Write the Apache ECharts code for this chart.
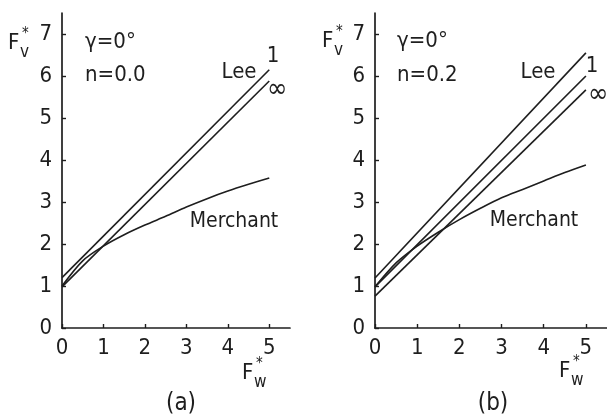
<!DOCTYPE html>
<html>
<head>
<meta charset="utf-8">
<script src="https://cdn.jsdelivr.net/npm/echarts@6/dist/echarts.min.js"></script>
<style>
  html, body { margin: 0; padding: 0; background: #fff; }
  #chart { width: 607px; height: 420px; }
</style>
</head>
<body>
<div id="chart"></div>
<script>
// Tick values shared by both panels
const fvTicks = [0, 1, 2, 3, 4, 5, 6, 7];
const fwTicks = [0, 1, 2, 3, 4, 5];

// Straight lines are defined by their end points
const lineFw = [0, 5];

// Panel (a): γ = 0°, n = 0.0
const aLee = [1.2, 6.15];
const aInf = [0.98, 5.88];
const merchFw = [0, 0.5, 1, 1.5, 2, 2.5, 3, 3.5, 4, 4.5, 5];
const aMerchant = [1.0, 1.6, 1.95, 2.22, 2.45, 2.66, 2.88, 3.08, 3.26, 3.42, 3.57];

// Panel (b): γ = 0°, n = 0.2
const bLee = [1.19, 6.55];
const bOne = [0.98, 6.0];
const bInf = [0.76, 5.67];
const bMerchant = [0.98, 1.55, 1.95, 2.28, 2.58, 2.85, 3.1, 3.3, 3.5, 3.7, 3.88];

const FONT = "'Liberation Sans Narrow', 'DejaVu Sans Condensed', sans-serif";
const INK = '#1e1e1e';

const pairs = (xs, ys) => xs.map((x, i) => [x, ys[i]]);

function xAxisFor(gridIndex) {
  return {
    gridIndex, type: 'value', min: 0, max: 5.5,
    axisLine: { show: true, lineStyle: { color: INK, width: 1.7 } },
    axisTick: { show: true, inside: true, length: 4, customValues: fwTicks, lineStyle: { color: INK, width: 1.4 } },
    axisLabel: { customValues: fwTicks, margin: 9, fontSize: 22, fontFamily: FONT, color: INK },
    splitLine: { show: false }
  };
}
function yAxisFor(gridIndex) {
  return {
    gridIndex, type: 'value', min: 0, max: 7.5,
    axisLine: { show: true, lineStyle: { color: INK, width: 1.7 } },
    axisTick: { show: true, inside: true, length: 4, customValues: fvTicks, lineStyle: { color: INK, width: 1.4 } },
    axisLabel: { customValues: fvTicks, margin: 10, fontSize: 22, fontFamily: FONT, color: INK },
    splitLine: { show: false }
  };
}
function curve(idx, pts, smooth) {
  return {
    type: 'line', xAxisIndex: idx, yAxisIndex: idx, data: pts,
    showSymbol: false, smooth: smooth ? 0.3 : false, silent: true,
    lineStyle: { color: INK, width: 1.6 }
  };
}
function txt(x, y, text, size, align) {
  return {
    type: 'text', x, y, silent: true,
    style: { text, fill: INK, font: size + 'px ' + FONT, align: align || 'center', verticalAlign: 'middle' }
  };
}
// F* with a stacked superscript star and subscript letter
function fStar(x, y, sub) {
  return [
    txt(x, y, 'F', 22, 'left'),
    txt(x + 14, y - 9, '*', 15, 'left'),
    txt(x + 12, y + 10, sub, 17, 'left')
  ];
}

const chart = echarts.init(document.getElementById('chart'), null, { renderer: 'canvas' });
chart.setOption({
  backgroundColor: '#ffffff',
  animation: false,
  grid: [
    { left: 62, top: 13, width: 228, height: 315 },
    { left: 375, top: 13, width: 232, height: 315 }
  ],
  xAxis: [xAxisFor(0), xAxisFor(1)],
  yAxis: [yAxisFor(0), yAxisFor(1)],
  series: [
    curve(0, pairs(lineFw, aLee)),
    curve(0, pairs(lineFw, aInf)),
    curve(0, pairs(merchFw, aMerchant), true),
    curve(1, pairs(lineFw, bLee)),
    curve(1, pairs(lineFw, bOne)),
    curve(1, pairs(lineFw, bInf)),
    curve(1, pairs(merchFw, bMerchant), true)
  ],
  graphic: [
    ...fStar(8, 43, 'v'),
    ...fStar(322, 41, 'v'),
    ...fStar(242, 373, 'w'),
    ...fStar(559, 371, 'w'),
    txt(85, 42, 'γ=0°', 22, 'left'),
    txt(85, 75, 'n=0.0', 22, 'left'),
    txt(397, 41, 'γ=0°', 22, 'left'),
    txt(397, 75, 'n=0.2', 22, 'left'),
    txt(239, 72, 'Lee', 22),
    txt(273, 56, '1', 22),
    txt(277, 90, '∞', 27),
    txt(234, 222, 'Merchant', 21),
    txt(538, 72, 'Lee', 22),
    txt(592, 66, '1', 22),
    txt(598, 95, '∞', 27),
    txt(534, 221, 'Merchant', 21),
    txt(181, 404, '(a)', 24),
    txt(493, 404, '(b)', 24)
  ]
});
</script>
</body>
</html>
